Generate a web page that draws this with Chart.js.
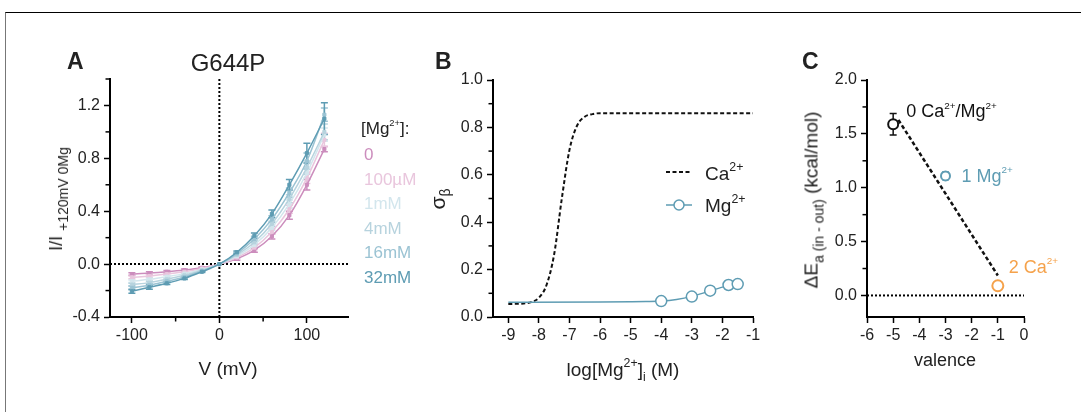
<!DOCTYPE html>
<html>
<head>
<meta charset="utf-8">
<script src="https://cdn.jsdelivr.net/npm/chart.js@4.4.1/dist/chart.umd.min.js"></script>
<style>
body { margin: 0; background: #fff; }
#wrap { position: relative; width: 1081px; height: 412px; overflow: hidden; font-family: "Liberation Sans", Arial, sans-serif; color: #222; }
#frame { position: absolute; left: 5px; top: 12px; width: 1100px; height: 420px; border-top: 1px solid #000; border-left: 1px solid #777; }
canvas { position: absolute; left: 0; top: 0; }
.t { position: absolute; white-space: nowrap; line-height: 1; }
.c { transform: translateX(-50%); }
.rot { transform: translate(-50%, -50%) rotate(-90deg); }
.b { font-weight: bold; }
.sup { position: relative; font-size: 0.65em; top: -0.72em; }
.ssup { position: relative; font-size: 0.55em; top: -0.85em; }
.sub { position: relative; font-size: 0.72em; top: 0.42em; }
</style>
</head>
<body>
<div id="wrap">
  <div id="frame"></div>
  <canvas id="chartA" width="1081" height="412"></canvas>
  <canvas id="chartB" width="1081" height="412"></canvas>
  <canvas id="chartC" width="1081" height="412"></canvas>

  <!-- panel A text -->
  <div class="t b" style="left:67px;top:50px;font-size:23px;">A</div>
  <div class="t c" style="left:228px;top:51px;font-size:24px;">G644P</div>
  <div class="t rot" style="left:56px;top:199px;font-size:18px;">I/I <span class="sub" style="font-size:14px;">+120mV 0Mg</span></div>
  <div class="t c" style="left:228px;top:359px;font-size:19px;">V (mV)</div>
  <div id="legendA"></div>

  <!-- panel B text -->
  <div class="t b" style="left:435px;top:50px;font-size:23px;">B</div>
  <div class="t rot" style="left:437px;top:199px;font-size:21px;">σ<span class="sub" style="font-size:14px;top:5px;">β</span></div>
  <div class="t c" style="left:623px;top:360px;font-size:19px;">log[Mg<span class="sup">2+</span>]<span class="sub" style="font-size:12px;">i</span> (M)</div>
  <div class="t" style="left:705px;top:164px;font-size:19px;">Ca<span class="sup">2+</span></div>
  <div class="t" style="left:705px;top:196px;font-size:19px;">Mg<span class="sup">2+</span></div>

  <!-- panel C text -->
  <div class="t b" style="left:802px;top:50px;font-size:23px;">C</div>
  <div class="t rot" style="left:811px;top:200px;font-size:19px;">ΔE<span class="sub" style="font-size:14px;">a (in - out)</span> (kcal/mol)</div>
  <div class="t c" style="left:945px;top:351px;font-size:18px;">valence</div>
  <div id="labelsC"></div>
</div>

<script>
// ---- panel A: I-V curves at different [Mg2+]
const voltages = [-100, -80, -60, -40, -20, 0, 20, 40, 60, 80, 100, 120];
const mgLabels = ['0', '100µM', '1mM', '4mM', '16mM', '32mM'];
const iv0     = [-0.075, -0.068, -0.058, -0.045, -0.027, 0, 0.04, 0.105, 0.21, 0.37, 0.60, 0.87];
const iv100uM = [-0.100, -0.090, -0.075, -0.058, -0.033, 0, 0.05, 0.125, 0.245, 0.415, 0.65, 0.94];
const iv1mM   = [-0.130, -0.115, -0.095, -0.072, -0.040, 0, 0.06, 0.145, 0.275, 0.455, 0.69, 0.98];
const iv4mM   = [-0.155, -0.140, -0.115, -0.085, -0.046, 0, 0.07, 0.165, 0.305, 0.495, 0.73, 1.00];
const iv16mM  = [-0.180, -0.160, -0.130, -0.098, -0.052, 0, 0.08, 0.190, 0.340, 0.540, 0.78, 1.13];
const iv32mM  = [-0.205, -0.175, -0.145, -0.108, -0.058, 0, 0.09, 0.215, 0.380, 0.600, 0.84, 1.10];
const err0     = [0.01, 0.01, 0.01, 0.008, 0.005, 0, 0.01, 0.015, 0.02, 0.03, 0.04, 0.02];
const err100uM = [0.01, 0.01, 0.01, 0.008, 0.005, 0, 0.01, 0.015, 0.02, 0.03, 0.04, 0.05];
const err1mM   = [0.01, 0.01, 0.01, 0.008, 0.005, 0, 0.01, 0.015, 0.02, 0.03, 0.04, 0.05];
const err4mM   = [0.01, 0.01, 0.01, 0.008, 0.005, 0, 0.01, 0.015, 0.02, 0.03, 0.05, 0.06];
const err16mM  = [0.015, 0.01, 0.01, 0.008, 0.005, 0, 0.01, 0.02, 0.025, 0.035, 0.06, 0.05];
const err32mM  = [0.015, 0.015, 0.01, 0.008, 0.005, 0, 0.01, 0.02, 0.03, 0.04, 0.075, 0.12];
const ivSeries = [iv0, iv100uM, iv1mM, iv4mM, iv16mM, iv32mM];
const ivErrors = [err0, err100uM, err1mM, err4mM, err16mM, err32mM];
const mgColors = ['#cc8dbd', '#e9c6dd', '#d3e6ed', '#b7d3de', '#9bc3d3', '#5e9cb3'];
const ivTicksX = [-100, 0, 100], ivMinorX = [-50, 50];
const ivTicksY = [-0.4, 0, 0.4, 0.8, 1.2], ivMinorY = [-0.2, 0.2, 0.6, 1.0, 1.4];

// ---- panel B: sigma_beta vs log concentration
const caLogConc = [-9, -8.5, -8.25, -8, -7.75, -7.5, -7.25, -7, -6.75, -6.5, -6.25, -6, -5, -1];
const caSigma   = [0.055, 0.057, 0.063, 0.081, 0.135, 0.265, 0.50, 0.705, 0.808, 0.845, 0.856, 0.86, 0.86, 0.86];
const mgLogConc = [-4, -3, -2.4, -1.8, -1.5];
const mgSigma   = [0.067, 0.086, 0.111, 0.135, 0.139];
const mgFitConc  = [-9, -6, -5, -4.5, -4, -3.5, -3, -2.5, -2, -1.5];
const mgFitSigma = [0.062, 0.063, 0.064, 0.065, 0.067, 0.074, 0.087, 0.106, 0.126, 0.139];
const sigTicksX = [-9, -8, -7, -6, -5, -4, -3, -2, -1];
const sigTicksY = [0, 0.2, 0.4, 0.6, 0.8, 1.0], sigMinorY = [0.1, 0.3, 0.5, 0.7, 0.9];

// ---- panel C: delta Ea vs valence
const valence   = [-5, -3, -1];
const deltaEa   = [1.59, 1.11, 0.09];
const deltaErr  = [0.10, 0.035, 0];
const ionNames  = ['0 Ca<span class="ssup">2+</span>/Mg<span class="ssup">2+</span>', '1 Mg<span class="ssup">2+</span>', '2 Ca<span class="ssup">2+</span>'];
const ionColors = ['#111111', '#5e9cb3', '#f5a24b'];
const fitValence = [-4.8, -1];
const fitEa      = [1.63, 0.185];
const valTicksX = [-6, -5, -4, -3, -2, -1, 0];
const eaTicksY = [0, 0.5, 1.0, 1.5, 2.0], eaMinorY = [0.25, 0.75, 1.25, 1.75];

Chart.defaults.font.family = '"Liberation Sans", Arial, sans-serif';
Chart.defaults.font.size = 16;
Chart.defaults.color = '#222';

const pts = (xs, ys) => xs.map((x, i) => ({x: x, y: ys[i]}));

function axis(min, max, ticks, fmt, size, isX) {
  return {
    type: 'linear', min: min, max: max,
    afterBuildTicks: s => { s.ticks = ticks.map(v => ({value: v})); },
    afterFit: s => { if (isX) s.height = size; else s.width = size; },
    ticks: { callback: fmt, padding: isX ? 3 : 4, autoSkip: false, maxRotation: 0 },
    grid: { drawOnChartArea: false, drawTicks: true, tickLength: 6, tickWidth: 1.5, tickColor: '#000' },
    border: { color: '#000', width: 2 }
  };
}
const fmt1 = v => v.toFixed(1);
const fmt0 = v => String(v);

// error bars, drawn under the markers
const errorBars = {
  id: 'errorBars',
  beforeDatasetsDraw(chart) {
    const ctx = chart.ctx, y = chart.scales.y;
    chart.data.datasets.forEach((ds, i) => {
      if (!ds.errors) return;
      const meta = chart.getDatasetMeta(i);
      ctx.save();
      ctx.lineWidth = 1.5;
      meta.data.forEach((p, j) => {
        const e = ds.errors[j];
        if (!e) return;
        const v = ds.data[j].y;
        const top = y.getPixelForValue(v + e), bot = y.getPixelForValue(v - e);
        ctx.strokeStyle = Array.isArray(ds.borderColor) ? ds.borderColor[j] : ds.borderColor;
        ctx.beginPath();
        ctx.moveTo(p.x, top); ctx.lineTo(p.x, bot);
        ctx.moveTo(p.x - 3.5, top); ctx.lineTo(p.x + 3.5, top);
        ctx.moveTo(p.x - 3.5, bot); ctx.lineTo(p.x + 3.5, bot);
        ctx.stroke();
      });
      ctx.restore();
    });
  }
};

// dotted zero lines, short minor ticks, legend samples
const extras = {
  id: 'extras',
  beforeDatasetsDraw(chart, args, opts) {
    const ctx = chart.ctx, a = chart.chartArea, x = chart.scales.x, y = chart.scales.y;
    ctx.save();
    ctx.strokeStyle = '#000';
    ctx.lineWidth = 2;
    ctx.setLineDash([2, 2]);
    (opts.h || []).forEach(v => {
      const p = y.getPixelForValue(v);
      ctx.beginPath(); ctx.moveTo(a.left, p); ctx.lineTo(a.right, p); ctx.stroke();
    });
    (opts.v || []).forEach(v => {
      const p = x.getPixelForValue(v);
      ctx.beginPath(); ctx.moveTo(p, a.top); ctx.lineTo(p, a.bottom); ctx.stroke();
    });
    ctx.restore();
  },
  afterDraw(chart, args, opts) {
    const ctx = chart.ctx, a = chart.chartArea, x = chart.scales.x, y = chart.scales.y;
    ctx.save();
    ctx.strokeStyle = '#000';
    ctx.lineWidth = 1.5;
    (opts.minorY || []).forEach(v => {
      const p = y.getPixelForValue(v);
      ctx.beginPath(); ctx.moveTo(a.left - 1, p); ctx.lineTo(a.left - 4.5, p); ctx.stroke();
    });
    (opts.minorX || []).forEach(v => {
      const p = x.getPixelForValue(v);
      ctx.beginPath(); ctx.moveTo(p, a.bottom + 1); ctx.lineTo(p, a.bottom + 4.5); ctx.stroke();
    });
    (opts.samples || []).forEach(s => {
      ctx.save();
      ctx.strokeStyle = s.color; ctx.lineWidth = s.width;
      ctx.setLineDash(s.dash || []);
      ctx.beginPath(); ctx.moveTo(s.x0, s.y); ctx.lineTo(s.x1, s.y); ctx.stroke();
      if (s.circle) {
        ctx.setLineDash([]);
        ctx.fillStyle = '#fff';
        ctx.beginPath(); ctx.arc((s.x0 + s.x1) / 2, s.y, 5, 0, Math.PI * 2); ctx.fill(); ctx.stroke();
      }
      ctx.restore();
    });
    ctx.restore();
  }
};

const base = {
  responsive: false, animation: false, events: [],
  plugins: { legend: { display: false }, tooltip: { enabled: false } }
};

// panel A
new Chart(document.getElementById('chartA'), {
  type: 'line',
  data: {
    datasets: ivSeries.map((s, i) => ({
      data: pts(voltages, s),
      errors: ivErrors[i],
      borderColor: mgColors[i],
      backgroundColor: mgColors[i],
      borderWidth: 1.5,
      pointStyle: 'rect', pointRadius: 2.2, pointBorderWidth: 1,
      cubicInterpolationMode: 'monotone',
      order: ivSeries.length - i
    }))
  },
  options: Object.assign({}, base, {
    layout: { padding: { left: 50, right: 733, top: 79, bottom: 55 } },
    scales: {
      x: axis(-125, 147, ivTicksX, fmt0, 40, true),
      y: axis(-0.4, 1.4, ivTicksY, fmt1, 60, false)
    },
    plugins: Object.assign({}, base.plugins, { extras: { h: [0], v: [0], minorX: ivMinorX, minorY: ivMinorY } })
  }),
  plugins: [errorBars, extras]
});

// legend for panel A
document.getElementById('legendA').innerHTML =
  '<div class="t" style="left:361px;top:120px;font-size:17px;">[Mg<span class="ssup" style="top:-0.9em">2+</span>]:</div>' +
  mgLabels.map((l, i) => '<div class="t" style="left:364px;top:' + (146 + i * 24.6) + 'px;font-size:17px;color:' + mgColors[i] + '">' + l + '</div>').join('');

// panel B
new Chart(document.getElementById('chartB'), {
  type: 'line',
  data: {
    datasets: [
      { data: pts(mgLogConc, mgSigma), showLine: false, borderColor: '#5e9cb3', backgroundColor: '#fff',
        pointRadius: 5.5, pointBorderWidth: 1.5, order: 0 },
      { data: pts(mgFitConc, mgFitSigma), borderColor: '#5e9cb3', borderWidth: 1.5, pointRadius: 0,
        cubicInterpolationMode: 'monotone', order: 1 },
      { data: pts(caLogConc, caSigma), borderColor: '#111', borderWidth: 2, borderDash: [4, 2.5], pointRadius: 0,
        cubicInterpolationMode: 'monotone', order: 2 }
    ]
  },
  options: Object.assign({}, base, {
    layout: { padding: { left: 433, right: 328, top: 80, bottom: 55 } },
    scales: {
      x: axis(-9.5, -1, sigTicksX, fmt0, 40, true),
      y: axis(0, 1.0, sigTicksY, fmt1, 60, false)
    },
    plugins: Object.assign({}, base.plugins, { extras: {
      minorY: sigMinorY,
      samples: [
        { x0: 666, x1: 692, y: 172, color: '#111', width: 2, dash: [4, 2.5] },
        { x0: 666, x1: 692, y: 205, color: '#5e9cb3', width: 1.5, circle: true }
      ]
    } })
  }),
  plugins: [extras]
});

// panel C
const chartC = new Chart(document.getElementById('chartC'), {
  type: 'line',
  data: {
    datasets: [
      { data: pts(valence, deltaEa), errors: deltaErr, showLine: false, borderColor: ionColors,
        pointBorderColor: ionColors, pointBackgroundColor: '#fff', pointRadius: [5, 4.5, 5.5], pointBorderWidth: 2, order: 0 },
      { data: pts(fitValence, fitEa), borderColor: '#111', borderWidth: 2.5, borderDash: [4, 2.5], pointRadius: 0, order: 1 }
    ]
  },
  options: Object.assign({}, base, {
    layout: { padding: { left: 807, right: 57, top: 80, bottom: 55 } },
    scales: {
      x: axis(-6, 0, valTicksX, fmt0, 40, true),
      y: axis(-0.2, 2.0, eaTicksY, fmt1, 60, false)
    },
    plugins: Object.assign({}, base.plugins, { extras: { h: [0], minorY: eaMinorY } })
  }),
  plugins: [errorBars, extras]
});

// point labels for panel C, placed next to each point through the scales
const labelOffsets = [[13, -22], [16, -9], [11, -28]];
document.getElementById('labelsC').innerHTML = valence.map((v, i) => {
  const px = chartC.scales.x.getPixelForValue(v) + labelOffsets[i][0];
  const py = chartC.scales.y.getPixelForValue(deltaEa[i]) + labelOffsets[i][1];
  return '<div class="t" style="left:' + px + 'px;top:' + py + 'px;font-size:18px;color:' + ionColors[i] + '">' + ionNames[i] + '</div>';
}).join('');
</script>
</body>
</html>
